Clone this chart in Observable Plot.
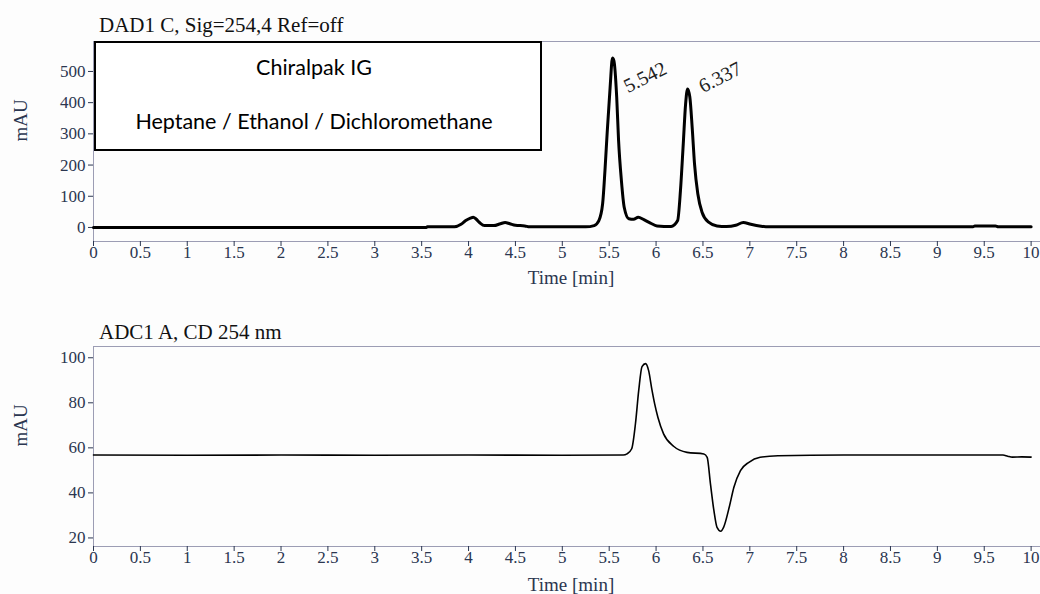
<!DOCTYPE html>
<html>
<head>
<meta charset="utf-8">
<script src="https://cdn.jsdelivr.net/npm/d3@7"></script>
<script src="https://cdn.jsdelivr.net/npm/@observablehq/plot@0.6"></script>
<style>
html,body{margin:0;padding:0;background:#fff;}
#wrap{position:relative;width:1040px;height:594px;overflow:hidden;font-family:"Liberation Serif",serif;background:#fdfdfd;}
#wrap svg, #wrap svg g, #wrap svg text{font-variant:normal !important;font-variant-numeric:normal !important;font-feature-settings:normal !important;}
.title{position:absolute;font-size:21px;line-height:21px;color:#111;white-space:nowrap;}
.panel{position:absolute;left:0;}
#legend{position:absolute;left:94px;top:41px;width:444px;height:106px;border:2px solid #000;background:#fff;font-family:Lato,sans-serif;color:#000;}
#legend div{position:absolute;left:0;right:8px;text-align:center;font-size:21.5px;line-height:21.5px;white-space:nowrap;}
</style>
</head>
<body>
<div id="wrap">
  <div class="panel" id="top" style="top:0"></div>
  <div class="panel" id="bottom" style="top:296px"></div>
  <div class="title" id="t1" style="left:99px;top:15px"></div>
  <div class="title" id="t2" style="left:99px;top:322px"></div>
  <div id="legend"><div id="l1" style="top:14px"></div><div id="l2" style="top:68px"></div></div>
</div>
<script>
// ---- text ----
const titleTop = "DAD1 C, Sig=254,4 Ref=off";
const titleBottom = "ADC1 A, CD 254 nm";
const legendLine1 = "Chiralpak IG";
const legendLine2 = "Heptane / Ethanol / Dichloromethane";
const xLabel = "Time [min]";
const yLabel = "mAU";

// ---- tick values ----
const xTicks = [0,0.5,1,1.5,2,2.5,3,3.5,4,4.5,5,5.5,6,6.5,7,7.5,8,8.5,9,9.5,10];
const dadTicks = [0,100,200,300,400,500];
const cdTicks = [20,40,60,80,100];

// ---- DAD1 trace (time min, mAU) ----
const dadTime = [0,3.55,3.56,3.85,3.92,3.97,4.02,4.05,4.08,4.12,4.17,4.27,4.34,4.39,4.44,4.5,4.6,4.65,5.25,
  5.34,5.39,5.43,5.455,5.48,5.51,5.535,5.55,5.58,5.6,5.63,5.66,5.71,5.76,5.81,5.87,5.94,6.01,6.16,
  6.23,6.26,6.29,6.315,6.336,6.36,6.385,6.41,6.445,6.49,6.56,6.65,6.75,6.85,6.93,7.01,7.12,7.2,
  9.38,9.4,9.62,9.65,10];
const dadValue = [0,0,2,2,10,22,30,33,27,15,6,6,12,16,12,7,5,2,2,
  6,22,76,183,311,450,543,535,418,279,151,65,28,26,33,25,14,5,3,
  22,118,268,396,444,418,321,204,108,49,17,5,3,7,16,10,4,2,
  2,5,5,2,2];

// ---- peak annotations ----
const annText = ["5.542","6.337"];
const annTime = [5.70, 6.50];
const annValue = [430, 430];

// ---- ADC1 CD trace (time min, mAU) ----
const cdTime = [0,1,2,3,4,5,5.65,5.69,5.74,5.78,5.815,5.85,5.888,5.92,5.957,5.985,6.02,6.08,6.19,6.33,6.51,
  6.545,6.58,6.617,6.65,6.69,6.72,6.78,6.83,6.9,6.99,7.11,7.3,8,9,9.7,9.75,9.8,9.9,10];
const cdValue = [56.8,56.7,56.8,56.7,56.8,56.7,56.8,57.3,59.6,70.7,85.5,96.1,97.4,94.4,85.5,79.5,73.5,66.2,60.6,58,57.3,
  55.8,44,32.1,24.7,23.0,24.7,33.6,42.5,49.9,53.6,55.8,56.5,56.8,56.8,56.8,56.3,55.9,56.0,55.9];

const dad = dadTime.map((t,i)=>({t, v: dadValue[i]}));
const cd = cdTime.map((t,i)=>({t, v: cdValue[i]}));
const ann = annText.map((s,i)=>({s, t: annTime[i], v: annValue[i]}));

document.getElementById("t1").textContent = titleTop;
document.getElementById("t2").textContent = titleBottom;
document.getElementById("l1").textContent = legendLine1;
document.getElementById("l2").textContent = legendLine2;

const inkColor = "#2b3650";
const frameColor = "#9c9db4";
const serif = "'Liberation Serif', 'Times New Roman', serif";

function panel({height, marginTop, marginBottom, yDomain, yTicks, data, strokeWidth, xLabelDy, extra}) {
  return Plot.plot({
    width: 1040, height, marginTop, marginBottom, marginLeft: 93, marginRight: 0,
    style: {fontFamily: serif, fontSize: "17px", background: "transparent", color: inkColor, overflow: "visible"},
    x: {domain: [0, 10.1]},
    y: {domain: yDomain},
    marks: [
      Plot.frame({anchor: "top", stroke: frameColor}),
      Plot.frame({anchor: "left", stroke: frameColor}),
      Plot.frame({anchor: "bottom", stroke: frameColor}),
      Plot.axisX(xTicks, {tickSize: 5, tickFormat: () => "", label: null, stroke: inkColor}),
      Plot.axisY(yTicks, {tickSize: 5, tickFormat: () => "", label: null, stroke: inkColor}),
      Plot.text(xTicks, {x: d => d, text: d => String(d), frameAnchor: "bottom", dy: 16, fontSize: 17, fontFamily: serif, fontVariant: "normal", fill: inkColor}),
      Plot.text(yTicks, {y: d => d, text: d => String(d), frameAnchor: "left", textAnchor: "end", dx: -8, fontSize: 17, fontFamily: serif, fontVariant: "normal", fill: inkColor}),
      Plot.line(data, {x: "t", y: "v", stroke: "#000", strokeWidth, curve: "monotone-x"}),
      Plot.text([xLabel], {frameAnchor: "bottom", dy: xLabelDy, dx: 4, fontSize: 19, fontFamily: serif, fill: inkColor}),
      Plot.text([yLabel], {frameAnchor: "left", rotate: -90, dx: -73, fontSize: 19, fontFamily: serif, fill: inkColor}),
      ...(extra || [])
    ]
  });
}

document.getElementById("top").append(panel({
  height: 296, marginTop: 41, marginBottom: 55, yDomain: [-45, 596], yTicks: dadTicks, data: dad, strokeWidth: 3, xLabelDy: 42,
  extra: [Plot.text(ann, {x: "t", y: "v", text: "s", rotate: -27, textAnchor: "start", lineAnchor: "bottom", fontSize: 20, fontFamily: serif, fontVariant: "normal", fill: "#222"})]
}));
document.getElementById("bottom").append(panel({
  height: 298, marginTop: 50, marginBottom: 48, yDomain: [16.2, 105], yTicks: cdTicks, data: cd, strokeWidth: 1.6, xLabelDy: 44
}));
</script>
</body>
</html>
